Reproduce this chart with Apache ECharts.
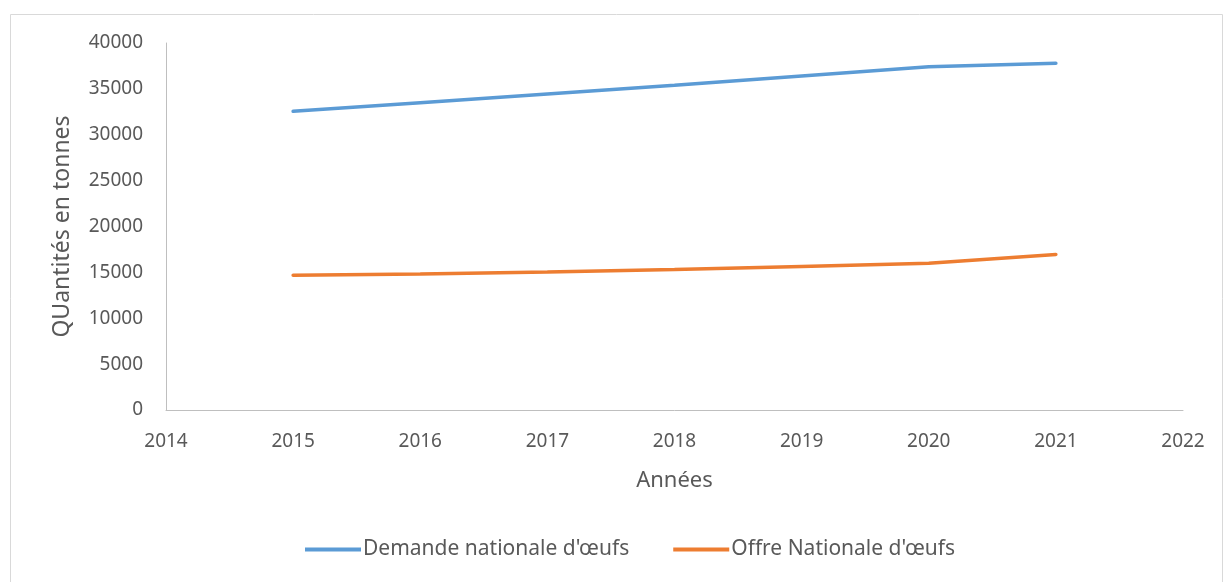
<!DOCTYPE html>
<html>
<head>
<meta charset="utf-8">
<script src="https://cdn.jsdelivr.net/npm/echarts@6/dist/echarts.min.js"></script>
<style>
  html, body { margin: 0; padding: 0; background: #fff; }
  #chart { width: 1223px; height: 582px; }
</style>
</head>
<body>
<div id="chart"></div>
<script>
const years = [2015, 2016, 2017, 2018, 2019, 2020, 2021];
const demande = [32550, 33500, 34450, 35400, 36400, 37400, 37800];
const offre = [14700, 14820, 15050, 15320, 15650, 15990, 16950];
const seriesNames = ["Demande nationale d'œufs", "Offre Nationale d'œufs"];

const font = "'Noto Sans', sans-serif";
const textColor = "#595959";

const chart = echarts.init(document.getElementById("chart"));

const toPairs = (vals) => years.map((y, i) => [y, vals[i]]);

chart.setOption({
  animation: false,
  textStyle: { fontFamily: font },
  graphic: [
    {
      type: "rect",
      shape: { x: 10.5, y: 14.5, width: 1212, height: 580 },
      style: { fill: "none", stroke: "#d9d9d9", lineWidth: 1 },
      silent: true,
    },
  ],
  grid: {
    left: 166,
    right: 40,
    top: 43,
    bottom: 172,
  },
  legend: {
    bottom: 17,
    left: 300,
    icon: "rect",
    itemWidth: 56,
    itemHeight: 4,
    itemGap: 44,
    textStyle: { color: textColor, fontSize: 21, fontFamily: font, padding: [0, 0, 0, -3] },
    data: seriesNames,
  },
  xAxis: {
    type: "value",
    min: 2014,
    max: 2022,
    interval: 1,
    name: "Années",
    nameLocation: "middle",
    nameGap: 60,
    nameTextStyle: { color: textColor, fontSize: 22, fontFamily: font },
    axisLine: { show: true, lineStyle: { color: "#bfbfbf", width: 1 } },
    axisTick: { show: false },
    splitLine: { show: false },
    axisLabel: {
      color: textColor,
      fontSize: 19,
      margin: 22,
      formatter: (v) => String(v),
    },
  },
  yAxis: {
    type: "value",
    min: 0,
    max: 40000,
    interval: 5000,
    name: "QUantités en tonnes",
    nameLocation: "middle",
    nameGap: 92,
    nameTextStyle: { color: textColor, fontSize: 23, fontFamily: font },
    axisLine: { show: true, lineStyle: { color: "#bfbfbf", width: 1 } },
    axisTick: { show: false },
    splitLine: { show: false },
    axisLabel: {
      color: textColor,
      fontSize: 19,
      margin: 23,
      formatter: (v) => String(v),
    },
  },
  series: [
    {
      name: seriesNames[0],
      type: "line",
      data: toPairs(demande),
      symbol: "none",
      lineStyle: { color: "#5b9bd5", width: 3.5, cap: "round" },
      itemStyle: { color: "#5b9bd5" },
    },
    {
      name: seriesNames[1],
      type: "line",
      data: toPairs(offre),
      symbol: "none",
      lineStyle: { color: "#ed7d31", width: 3.5, cap: "round" },
      itemStyle: { color: "#ed7d31" },
    },
  ],
});
</script>
</body>
</html>
